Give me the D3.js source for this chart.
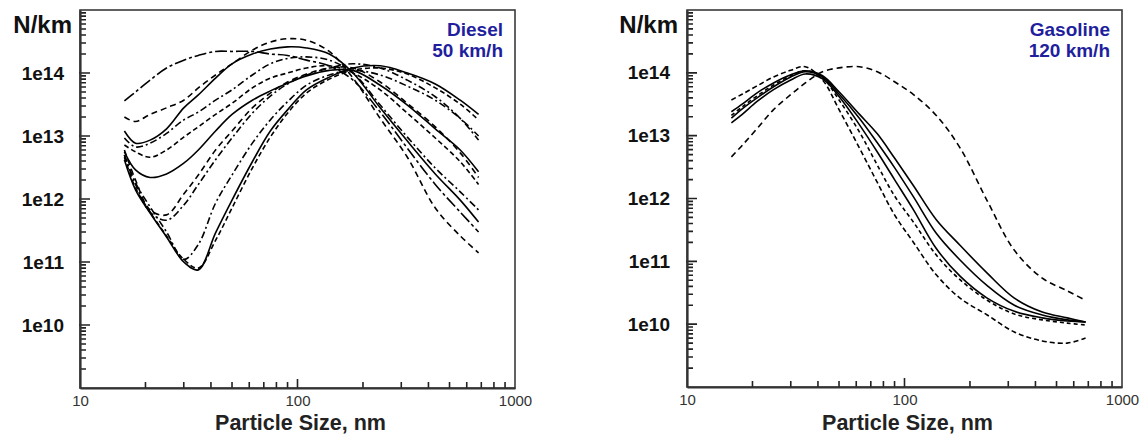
<!DOCTYPE html>
<html>
<head>
<meta charset="utf-8">
<script src="https://d3js.org/d3.v7.min.js"></script>
<style>
  body { margin: 0; background: #fff; }
  svg { display: block; font-family: "Liberation Sans", Arial, sans-serif; }
</style>
</head>
<body>
<svg id="chart" width="1143" height="442"></svg>
<script>
const sizes = [16, 18, 21, 25, 30, 35, 42, 50, 62, 75, 90, 110, 140, 180, 240, 320, 430, 560, 680];

// Diesel 50 km/h, N/km per size
const diesel01 = [3.6e13, 5.0e13, 7.7e13, 1.2e14, 1.6e14, 1.9e14, 2.2e14, 2.2e14, 2.2e14, 2.0e14, 1.9e14, 1.6e14, 1.3e14, 7.7e13, 2.4e13, 6.4e12, 1.7e12, 6.2e11, 3.0e11];
const diesel02 = [2.0e13, 1.7e13, 2.2e13, 2.8e13, 3.7e13, 5.8e13, 9.3e13, 1.4e14, 2.3e14, 3.1e14, 3.5e14, 3.3e14, 2.2e14, 8.3e13, 1.9e13, 4.6e12, 7.2e11, 2.6e11, 1.4e11];
const diesel03 = [1.2e13, 7.7e12, 8.6e12, 1.3e13, 2.8e13, 4.5e13, 8.3e13, 1.4e14, 2.0e14, 2.4e14, 2.6e14, 2.5e14, 2.0e14, 1.0e14, 2.8e13, 8.3e12, 2.5e12, 9.6e11, 4.3e11];
const diesel04 = [9.3e12, 6.7e12, 7.7e12, 1.1e13, 1.8e13, 2.4e13, 3.7e13, 5.4e13, 9.3e13, 1.4e14, 1.7e14, 1.8e14, 1.6e14, 1.0e14, 3.1e13, 9.6e12, 3.1e12, 1.3e12, 6.7e11];
const diesel05 = [7.2e12, 5.6e12, 4.6e12, 6.0e12, 9.6e12, 1.4e13, 2.2e13, 3.3e13, 5.8e13, 8.3e13, 1.0e14, 1.2e14, 1.3e14, 1.0e14, 5.4e13, 2.3e13, 9.3e12, 3.9e12, 1.7e12];
const diesel06 = [5.6e12, 2.9e12, 2.2e12, 2.5e12, 3.7e12, 6.0e12, 1.2e13, 2.2e13, 3.7e13, 5.2e13, 6.9e13, 9.0e13, 1.1e14, 1.1e14, 6.4e13, 3.1e13, 1.3e13, 6.0e12, 2.7e12];
const diesel07 = [6.0e12, 2.0e12, 6.7e11, 5.6e11, 1.2e12, 2.4e12, 6.0e12, 1.2e13, 2.8e13, 4.8e13, 7.2e13, 9.6e13, 1.2e14, 1.2e14, 7.2e13, 3.3e13, 1.4e13, 5.4e12, 2.2e12];
const diesel08 = [5.0e12, 1.7e12, 6.2e11, 4.6e11, 8.0e11, 1.7e12, 4.2e12, 9.3e12, 2.3e13, 4.3e13, 6.7e13, 9.3e13, 1.2e14, 1.4e14, 1.2e14, 7.7e13, 4.2e13, 1.9e13, 8.6e12];
const diesel09 = [4.2e12, 1.4e12, 6.0e11, 2.5e11, 1.0e11, 7.5e10, 2.9e11, 9.6e11, 3.9e12, 1.2e13, 2.6e13, 5.4e13, 8.6e13, 1.2e14, 1.3e14, 1.0e14, 6.7e13, 3.7e13, 2.2e13];
const diesel10 = [4.6e12, 1.5e12, 6.2e11, 2.6e11, 1.1e11, 8.0e10, 2.2e11, 7.2e11, 3.1e12, 9.6e12, 2.3e13, 4.8e13, 8.0e13, 1.1e14, 1.2e14, 9.6e13, 5.8e13, 3.2e13, 1.8e13];
const diesel11 = [5.0e12, 1.8e12, 7.5e11, 3.0e11, 1.1e11, 1.9e11, 8.6e11, 2.4e12, 7.7e12, 1.8e13, 3.5e13, 6.4e13, 9.3e13, 1.1e14, 9.3e13, 6.2e13, 3.7e13, 1.9e13, 1.0e13];

// Gasoline 120 km/h, N/km per size
const gasoline01 = [2.4e13, 3.2e13, 4.8e13, 6.9e13, 9.3e13, 1.08e14, 9.0e13, 5.0e13, 2.2e13, 1.07e13, 4.4e12, 1.6e12, 4.6e11, 1.8e11, 6.5e10, 2.6e10, 1.56e10, 1.26e10, 1.08e10];
const gasoline02 = [1.9e13, 2.7e13, 4.0e13, 6.0e13, 8.6e13, 1.04e14, 8.6e13, 4.6e13, 1.9e13, 7.7e12, 3.1e12, 1.06e12, 2.8e11, 1.05e11, 4.1e10, 2.0e10, 1.4e10, 1.17e10, 1.08e10];
const gasoline03 = [1.6e13, 2.2e13, 3.5e13, 5.4e13, 7.7e13, 9.6e13, 8.0e13, 4.2e13, 1.5e13, 5.5e12, 2.0e12, 6.6e11, 1.6e11, 5.8e10, 2.6e10, 1.6e10, 1.26e10, 1.12e10, 1.08e10];
const gasoline04 = [3.7e13, 4.6e13, 6.2e13, 8.6e13, 1.1e14, 1.25e14, 7.7e13, 2.6e13, 6.4e12, 1.8e12, 5.5e11, 2.0e11, 6.1e10, 2.6e10, 1.4e10, 7.5e9, 5.4e9, 5.0e9, 6.0e9];
const gasoline05 = [2.1e13, 2.9e13, 4.3e13, 6.4e13, 9.0e13, 1.08e14, 8.3e13, 3.7e13, 1.15e13, 3.4e12, 1.1e12, 4.2e11, 1.26e11, 5.1e10, 2.4e10, 1.45e10, 1.17e10, 1.04e10, 9.7e9];
const gasoline06 = [4.6e12, 7.1e12, 1.3e13, 2.6e13, 4.5e13, 6.9e13, 1.04e14, 1.2e14, 1.25e14, 1.04e14, 7.2e13, 4.5e13, 2.1e13, 6.4e12, 9.2e11, 1.5e11, 5.4e10, 3.4e10, 2.4e10];

// Axis ticks
const xTickValues = [10, 100, 1000];
const yTickValues = [1e10, 1e11, 1e12, 1e13, 1e14];
const xMinorTicks = [20, 30, 40, 50, 60, 70, 80, 90, 200, 300, 400, 500, 600, 700, 800, 900];
const yMinorTicks = [2e9, 3e9, 4e9, 5e9, 6e9, 7e9, 8e9, 9e9,
    2e10, 3e10, 4e10, 5e10, 6e10, 7e10, 8e10, 9e10,
    2e11, 3e11, 4e11, 5e11, 6e11, 7e11, 8e11, 9e11,
    2e12, 3e12, 4e12, 5e12, 6e12, 7e12, 8e12, 9e12,
    2e13, 3e13, 4e13, 5e13, 6e13, 7e13, 8e13, 9e13,
    2e14, 3e14, 4e14, 5e14, 6e14, 7e14, 8e14, 9e14];

// Line patterns (solid, dashed, dash-dot, long dash-dot)
const SOLID = null, DASH = '6,4', DASH2 = '5,3', DASHDOT = '7,3,2,3', LONGDASHDOT = '12,3,3,3';

const panels = [
    {
        left: 80, right: 515, top: 10, bottom: 388, yLabelRight: 72,
        title: ['Diesel', '50 km/h'],
        series: [diesel01, diesel02, diesel03, diesel04, diesel05, diesel06, diesel07, diesel08, diesel09, diesel10, diesel11],
        dashes: [LONGDASHDOT, DASH, SOLID, DASHDOT, DASH2, SOLID, DASH, DASHDOT, SOLID, DASH2, DASHDOT]
    },
    {
        left: 687, right: 1122, top: 10, bottom: 387, yLabelRight: 678,
        title: ['Gasoline', '120 km/h'],
        series: [gasoline01, gasoline02, gasoline03, gasoline04, gasoline05, gasoline06],
        dashes: [SOLID, SOLID, SOLID, DASH2, '4,3', DASH]
    }
];

const svg = d3.select('#chart');

function drawPanel(p) {
    const x = d3.scaleLog().domain([10, 1000]).range([p.left, p.right]);
    const y = d3.scaleLog().domain([1e9, 1e15]).range([p.bottom, p.top]);

    // frame
    svg.append('rect')
        .attr('x', p.left).attr('y', p.top)
        .attr('width', p.right - p.left).attr('height', p.bottom - p.top)
        .attr('fill', 'none').attr('stroke', '#3a3a3a').attr('stroke-width', 1.6);

    // curves
    const line = d3.line()
        .x(d => x(d[0]))
        .y(d => y(d[1]))
        .curve(d3.curveCatmullRom.alpha(0.5));

    p.series.forEach((values, i) => {
        svg.append('path')
            .datum(sizes.map((s, j) => [s, values[j]]))
            .attr('d', line)
            .attr('fill', 'none')
            .attr('stroke', '#000')
            .attr('stroke-width', 1.6)
            .attr('stroke-dasharray', p.dashes[i]);
    });

    // tick marks inside the frame
    const ticks = d3.path();
    xMinorTicks.forEach(v => { ticks.moveTo(x(v), p.bottom); ticks.lineTo(x(v), p.bottom - 6) });
    ticks.moveTo(x(100), p.bottom); ticks.lineTo(x(100), p.bottom - 9);
    yMinorTicks.forEach(v => { ticks.moveTo(p.left, y(v)); ticks.lineTo(p.left + 6, y(v)) });
    yTickValues.forEach(v => { ticks.moveTo(p.left - 1, y(v)); ticks.lineTo(p.left + 10, y(v)) });
    svg.append('path').attr('d', ticks.toString())
        .attr('fill', 'none').attr('stroke', '#222').attr('stroke-width', 1.6);

    // labels and axis lines
    const gx = svg.append('g')
        .attr('transform', `translate(0,${p.bottom})`)
        .call(d3.axisBottom(x).tickValues(xTickValues).tickSize(0).tickPadding(7).tickFormat(d3.format('d')));
    gx.attr('font-family', null).attr('font-size', 15);
    gx.selectAll('text').attr('fill', '#333');
    gx.select('.domain').attr('stroke-width', 2.2).attr('stroke', '#333');

    const gy = svg.append('g')
        .attr('transform', `translate(${p.left},0)`)
        .call(d3.axisLeft(y).tickValues(yTickValues).tickSize(0).tickPadding(p.left - p.yLabelRight + 8)
            .tickFormat(d => '1e' + Math.round(Math.log10(d))));
    gy.attr('font-family', null).attr('font-size', 19).attr('font-weight', 'bold');
    gy.selectAll('text').attr('fill', '#111');
    gy.select('.domain').attr('stroke-width', 2.2).attr('stroke', '#333');

    // texts
    svg.append('text')
        .attr('x', p.yLabelRight).attr('y', 33)
        .attr('text-anchor', 'end')
        .attr('font-size', 24).attr('font-weight', 'bold').attr('fill', '#111')
        .text('N/km');

    svg.append('text')
        .attr('x', (p.left + p.right) / 2 + 3).attr('y', 430)
        .attr('text-anchor', 'middle')
        .attr('font-size', 21.5).attr('font-weight', 'bold').attr('fill', '#222')
        .text('Particle Size, nm');

    p.title.forEach((t, i) => {
        svg.append('text')
            .attr('x', p.right - 12).attr('y', 36 + i * 20.5)
            .attr('text-anchor', 'end')
            .attr('font-size', 19).attr('font-weight', 'bold').attr('fill', '#1f1f9e')
            .text(t);
    });
}

panels.forEach(drawPanel);
</script>
</body>
</html>
